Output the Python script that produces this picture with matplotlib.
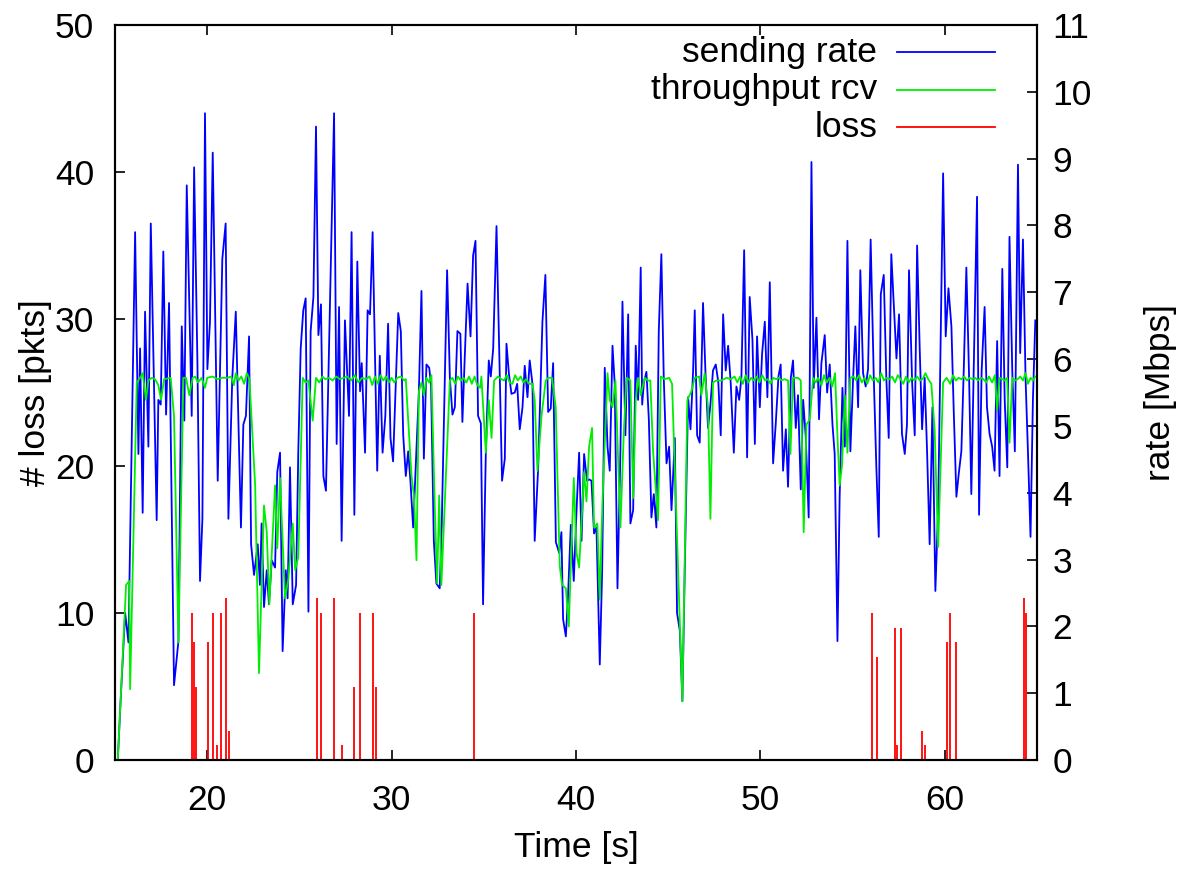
import matplotlib
matplotlib.use("Agg")
from matplotlib import pyplot as plt

# sending rate [Mbps]
send_t = [15.15, 15.31, 15.55, 15.73, 16.09, 16.27, 16.36, 16.50, 16.63, 16.81, 16.94, 17.26, 17.35, 17.48,
          17.62, 17.77, 17.93, 18.20, 18.44, 18.62, 18.76, 18.89, 19.16, 19.29, 19.47, 19.61, 19.74, 19.88,
          20.01, 20.15, 20.30, 20.57, 20.82, 21.00, 21.15, 21.36, 21.55, 21.83, 21.96, 22.10, 22.27, 22.38,
          22.54, 22.74, 22.86, 22.95, 23.08, 23.23, 23.35, 23.50, 23.68, 23.80, 23.95, 24.09, 24.26, 24.36,
          24.49, 24.64, 24.82, 24.94, 25.07, 25.21, 25.34, 25.49, 25.61, 25.76, 25.90, 26.03, 26.17, 26.30,
          26.44, 26.88, 27.02, 27.15, 27.29, 27.47, 27.69, 27.83, 27.98, 28.14, 28.29, 28.38, 28.56, 28.70,
          28.83, 28.97, 29.22, 29.36, 29.51, 29.66, 29.81, 29.94, 30.08, 30.36, 30.50, 30.63, 30.77, 30.90,
          31.02, 31.17, 31.48, 31.62, 31.75, 31.89, 32.04, 32.14, 32.29, 32.43, 32.61, 32.72, 33.01, 33.16,
          33.30, 33.43, 33.57, 33.73, 33.84, 33.97, 34.12, 34.28, 34.42, 34.55, 34.69, 34.84, 34.96, 35.11,
          35.27, 35.38, 35.51, 35.69, 35.99, 36.14, 36.23, 36.36, 36.50, 36.68, 36.81, 36.95, 37.10, 37.22,
          37.37, 37.49, 37.64, 37.76, 37.95, 38.18, 38.34, 38.49, 38.63, 38.76, 38.91, 39.09, 39.21, 39.30,
          39.45, 39.57, 39.72, 39.88, 40.03, 40.17, 40.30, 40.44, 40.60, 40.71, 40.84, 40.98, 41.11, 41.29,
          41.42, 41.56, 41.71, 41.83, 41.98, 42.10, 42.25, 42.41, 42.52, 42.68, 42.83, 42.95, 43.10, 43.24,
          43.37, 43.51, 43.59, 43.68, 43.82, 43.95, 44.09, 44.22, 44.36, 44.49, 44.63, 44.76, 44.91, 45.05,
          45.18, 45.36, 45.48, 45.63, 45.77, 45.90, 46.08, 46.21, 46.35, 46.44, 46.57, 46.71, 46.89, 47.02,
          47.16, 47.29, 47.43, 47.58, 47.72, 47.85, 47.98, 48.12, 48.25, 48.39, 48.56, 48.70, 48.85, 48.97,
          49.12, 49.28, 49.42, 49.57, 49.70, 49.82, 49.97, 50.09, 50.24, 50.38, 50.51, 50.69, 50.83, 50.98,
          51.10, 51.23, 51.38, 51.50, 51.65, 51.77, 51.92, 52.04, 52.19, 52.32, 52.46, 52.62, 52.77, 52.89,
          53.04, 53.18, 53.31, 53.49, 53.62, 53.76, 53.91, 54.03, 54.18, 54.30, 54.45, 54.58, 54.72, 54.88,
          55.03, 55.15, 55.30, 55.42, 55.57, 55.71, 55.84, 55.98, 56.15, 56.29, 56.42, 56.53, 56.69, 56.83,
          56.96, 57.10, 57.23, 57.38, 57.52, 57.68, 57.83, 57.95, 58.06, 58.23, 58.37, 58.50, 58.64, 58.77,
          58.91, 59.04, 59.18, 59.33, 59.49, 59.64, 59.76, 59.91, 60.05, 60.20, 60.36, 60.48, 60.63, 60.76,
          60.90, 61.04, 61.17, 61.32, 61.44, 61.59, 61.75, 61.86, 62.00, 62.16, 62.29, 62.43, 62.57, 62.70,
          62.84, 62.97, 63.12, 63.25, 63.39, 63.51, 63.66, 63.80, 63.97, 64.09, 64.24, 64.38, 64.51, 64.65,
          64.78, 64.91]
send_mbps = [0.00, 0.92, 2.20, 1.76, 7.90, 4.58, 6.16, 3.70, 6.71, 4.69, 8.03, 3.59, 5.39, 5.32,
             7.61, 5.17, 6.84, 1.12, 1.78, 6.49, 5.08, 8.60, 5.15, 8.87, 5.94, 2.68, 3.61, 9.68,
             5.85, 6.56, 9.09, 4.18, 7.50, 8.03, 3.61, 5.72, 6.71, 3.48, 5.02, 5.15, 6.34, 3.23,
             2.77, 3.23, 2.62, 3.54, 2.29, 2.84, 2.33, 2.99, 2.88, 4.31, 4.60, 1.63, 2.84, 2.42,
             4.38, 2.33, 2.62, 4.62, 6.16, 6.73, 6.91, 2.22, 6.42, 6.93, 9.48, 6.36, 6.82, 4.25,
             4.03, 9.68, 4.73, 6.78, 3.28, 6.58, 5.15, 7.90, 3.67, 7.46, 5.52, 5.94, 4.60, 6.73,
             6.67, 7.90, 4.33, 6.05, 4.60, 5.15, 6.53, 4.82, 4.47, 6.69, 6.42, 4.86, 4.25, 4.62,
             4.18, 3.48, 5.52, 7.02, 4.51, 5.92, 5.87, 5.61, 3.28, 2.64, 2.57, 3.52, 7.33, 5.72,
             5.17, 5.28, 6.42, 6.38, 5.06, 6.05, 7.13, 6.34, 7.55, 7.77, 5.15, 5.04, 2.33, 4.60,
             5.98, 5.74, 6.16, 7.99, 4.18, 4.51, 6.23, 5.79, 5.48, 5.50, 5.63, 4.95, 5.28, 5.90,
             5.43, 5.98, 5.63, 3.28, 4.38, 6.56, 7.26, 5.21, 5.26, 5.94, 3.26, 3.10, 3.41, 2.11,
             1.85, 2.46, 3.52, 2.68, 3.74, 4.60, 3.28, 4.58, 4.18, 4.20, 4.18, 3.39, 3.48, 1.43,
             2.84, 5.87, 4.69, 4.33, 6.20, 5.63, 2.57, 4.62, 6.86, 4.86, 6.67, 3.54, 3.74, 6.20,
             5.39, 7.37, 5.32, 5.65, 5.81, 5.10, 3.63, 3.98, 3.48, 6.42, 7.57, 5.72, 4.44, 4.69,
             3.74, 4.82, 2.20, 1.94, 0.88, 2.86, 5.43, 4.95, 5.81, 6.73, 4.86, 4.75, 6.84, 5.81,
             4.97, 5.32, 5.83, 5.92, 5.65, 4.86, 6.67, 5.83, 6.20, 5.65, 4.60, 5.59, 5.39, 5.72,
             7.63, 4.53, 6.93, 6.29, 4.73, 6.34, 5.28, 6.07, 6.56, 5.43, 7.15, 4.44, 5.02, 5.74,
             5.92, 4.33, 4.95, 4.09, 5.72, 5.98, 4.97, 5.46, 4.05, 5.39, 4.84, 3.63, 8.95, 5.57,
             6.62, 5.10, 5.94, 6.36, 5.50, 5.92, 5.02, 4.58, 1.78, 3.96, 5.57, 4.69, 7.77, 4.62,
             5.72, 6.49, 5.28, 7.33, 5.79, 5.59, 5.85, 7.79, 5.72, 4.38, 3.34, 6.97, 7.26, 5.72,
             4.82, 7.57, 6.86, 6.01, 6.67, 4.88, 4.58, 5.02, 7.33, 5.65, 4.86, 7.70, 6.16, 4.95,
             5.72, 4.62, 3.23, 5.28, 2.53, 3.74, 5.94, 8.78, 6.34, 7.06, 6.49, 5.28, 3.94, 4.29,
             4.62, 5.94, 7.37, 5.72, 3.98, 6.16, 8.43, 3.67, 5.83, 6.78, 5.28, 4.88, 4.69, 4.33,
             6.27, 4.25, 7.35, 5.39, 4.38, 7.83, 5.83, 4.62, 8.91, 6.09, 7.79, 5.72, 4.62, 3.34,
             5.39, 6.58]

# throughput at the receiver [Mbps]
thr_t = [15.15, 15.60, 15.77, 15.82, 16.18, 16.36, 16.50, 16.68, 16.81, 16.99, 17.17, 17.35, 17.50, 17.66,
         18.02, 18.20, 18.44, 18.71, 18.85, 19.03, 19.21, 19.35, 19.50, 19.70, 19.88, 20.00, 20.30, 20.55,
         20.80, 21.10, 21.30, 21.45, 21.55, 21.70, 21.85, 22.00, 22.15, 22.29, 22.60, 22.81, 23.08, 23.23,
         23.37, 23.68, 23.80, 23.95, 24.22, 24.40, 24.64, 24.77, 24.94, 25.18, 25.33, 25.49, 25.72, 25.90,
         26.08, 26.25, 26.40, 26.60, 26.80, 27.00, 27.20, 27.40, 27.60, 27.80, 28.00, 28.20, 28.40, 28.60,
         28.80, 28.95, 29.10, 29.25, 29.40, 29.55, 29.70, 29.85, 30.00, 30.15, 30.30, 30.50, 30.69, 30.77,
         31.08, 31.21, 31.35, 31.48, 31.62, 31.75, 31.89, 32.04, 32.16, 32.34, 32.47, 32.58, 32.70, 33.16,
         33.30, 33.45, 33.60, 33.75, 33.90, 34.05, 34.20, 34.35, 34.50, 34.65, 34.80, 34.87, 35.11, 35.27,
         35.42, 35.56, 35.78, 35.95, 36.10, 36.25, 36.40, 36.55, 36.70, 36.85, 37.00, 37.15, 37.30, 37.45,
         37.64, 37.76, 37.91, 38.13, 38.36, 38.50, 38.70, 38.90, 39.12, 39.25, 39.45, 39.61, 39.88, 40.03,
         40.17, 40.44, 40.57, 40.71, 40.87, 40.98, 41.16, 41.29, 41.43, 41.71, 41.83, 41.98, 42.14, 42.41,
         42.59, 42.74, 42.95, 43.10, 43.24, 43.37, 43.51, 43.73, 43.90, 44.03, 44.18, 44.45, 44.60, 44.81,
         45.05, 45.21, 45.77, 46.04, 46.26, 46.44, 46.68, 46.80, 46.98, 47.16, 47.29, 47.43, 47.61, 47.88,
         48.16, 48.40, 48.60, 48.75, 48.90, 49.05, 49.20, 49.35, 49.50, 49.65, 49.80, 49.95, 50.10, 50.25,
         50.40, 50.55, 50.70, 50.85, 51.00, 51.15, 51.30, 51.50, 51.63, 51.77, 52.04, 52.19, 52.35, 52.50,
         52.68, 52.86, 53.00, 53.13, 53.31, 53.45, 53.60, 53.75, 53.90, 54.05, 54.18, 54.30, 54.43, 54.58,
         54.72, 54.88, 55.05, 55.20, 55.35, 55.50, 55.65, 55.80, 55.95, 56.10, 56.25, 56.40, 56.55, 56.70,
         56.85, 57.00, 57.15, 57.30, 57.45, 57.60, 57.75, 57.90, 58.05, 58.20, 58.35, 58.50, 58.65, 58.80,
         58.95, 59.10, 59.27, 59.45, 59.64, 59.91, 60.10, 60.30, 60.45, 60.60, 60.75, 60.90, 61.05, 61.20,
         61.35, 61.50, 61.65, 61.80, 61.95, 62.10, 62.25, 62.40, 62.57, 62.72, 62.84, 62.97, 63.12, 63.25,
         63.38, 63.51, 63.66, 63.80, 63.95, 64.10, 64.24, 64.38, 64.51, 64.65, 64.78, 64.91]
thr_mbps = [0.00, 2.62, 2.68, 1.06, 5.65, 5.72, 5.79, 5.39, 5.68, 5.72, 5.70, 5.61, 5.39, 5.70,
            5.72, 5.15, 1.76, 5.72, 5.72, 5.46, 5.72, 5.74, 5.65, 5.72, 5.57, 5.72, 5.74, 5.70,
            5.72, 5.72, 5.74, 5.61, 5.79, 5.68, 5.74, 5.63, 5.79, 5.70, 4.11, 1.30, 3.81, 3.41,
            2.33, 4.11, 3.17, 4.22, 2.42, 2.71, 3.54, 2.84, 3.04, 5.72, 5.65, 5.68, 5.08, 5.72,
            5.65, 5.74, 5.70, 5.72, 5.68, 5.74, 5.70, 5.72, 5.74, 5.68, 5.76, 5.65, 5.72, 5.70,
            5.74, 5.61, 5.74, 5.63, 5.76, 5.68, 5.74, 5.65, 5.72, 5.65, 5.72, 5.74, 5.68, 5.70,
            4.25, 3.96, 2.99, 5.52, 5.65, 5.46, 5.72, 5.65, 5.76, 3.81, 2.64, 3.96, 2.62, 5.68,
            5.72, 5.63, 5.74, 5.68, 5.72, 5.65, 5.74, 5.63, 5.74, 5.61, 5.57, 5.74, 4.60, 5.39,
            4.82, 5.68, 5.74, 5.70, 5.68, 5.76, 5.65, 5.63, 5.76, 5.68, 5.74, 5.65, 5.70, 5.63,
            5.63, 5.39, 4.33, 5.15, 5.68, 5.72, 5.72, 5.28, 2.90, 2.62, 2.57, 2.00, 4.22, 3.10,
            2.88, 4.31, 3.87, 4.69, 4.97, 3.48, 3.54, 2.40, 3.81, 5.79, 5.39, 5.28, 5.68, 3.48,
            4.88, 5.72, 5.68, 3.92, 5.39, 5.72, 5.46, 5.72, 5.68, 5.68, 4.62, 3.59, 5.74, 5.70,
            5.72, 5.63, 0.88, 5.39, 5.52, 5.72, 5.74, 5.46, 5.79, 5.28, 3.61, 5.65, 5.68, 5.68,
            5.72, 5.70, 5.74, 5.65, 5.74, 5.63, 5.76, 5.65, 5.72, 5.68, 5.74, 5.65, 5.76, 5.68,
            5.70, 5.63, 5.72, 5.70, 5.72, 5.68, 5.70, 5.68, 4.58, 5.72, 5.72, 5.68, 3.41, 5.02,
            5.10, 5.72, 5.65, 5.72, 5.61, 5.76, 5.65, 5.72, 5.59, 5.79, 4.84, 4.11, 4.42, 5.46,
            4.60, 5.72, 5.74, 5.68, 5.76, 5.65, 5.72, 5.63, 5.76, 5.68, 5.72, 5.65, 5.79, 5.68,
            5.72, 5.70, 5.74, 5.65, 5.76, 5.70, 5.63, 5.74, 5.65, 5.72, 5.68, 5.74, 5.68, 5.70,
            5.79, 5.70, 5.63, 4.95, 3.19, 5.65, 5.72, 5.63, 5.76, 5.68, 5.72, 5.70, 5.74, 5.68,
            5.72, 5.70, 5.72, 5.68, 5.72, 5.70, 5.65, 5.74, 5.65, 5.76, 5.24, 5.72, 5.70, 5.68,
            5.72, 4.75, 5.72, 5.68, 5.70, 5.74, 5.68, 5.79, 5.63, 5.72, 5.68, 5.74]

# lost packets per interval (zero elsewhere)
loss_t = [19.17, 19.27, 19.37, 20.02, 20.30, 20.55, 20.73, 21.02, 21.17, 25.95, 26.15, 26.87, 27.29,
          27.96, 28.29, 28.98, 29.13, 34.48, 56.06, 56.33, 57.29, 57.43, 57.61, 58.77, 58.91, 60.12,
          60.30, 60.63, 64.27, 64.42]
loss_pkts = [10, 8, 5, 8, 10, 1, 10, 11, 2, 11, 10, 11, 1,
             5, 10, 10, 5, 10, 10, 7, 9, 1, 9, 2, 1, 8,
             10, 8, 11, 10]

x_ticks = [20, 30, 40, 50, 60]
loss_ticks = [0, 10, 20, 30, 40, 50]
rate_ticks = list(range(0, 12))

plt.rcParams['font.family'] = ['Liberation Sans', 'DejaVu Sans']
plt.rcParams['font.size'] = 25.5

blue = '#0000ff'
green = '#00ee00'
red = '#ff0000'

fig = plt.figure(figsize=(11.82, 8.69), dpi=100)
ax = fig.add_axes([0.0973, 0.1254, 0.78, 0.8458])
ax.vlines(loss_t, 0, loss_pkts, colors=red, lw=1.3)

ax2 = ax.twinx()
ax2.plot(send_t, send_mbps, color=blue, lw=1.3)
ax2.plot(thr_t, thr_mbps, color=green, lw=1.3)

ax.set_xlim(15, 65)
ax.set_ylim(0, 50)
ax2.set_ylim(0, 11)
ax.set_xticks(x_ticks)
ax.set_yticks(loss_ticks)
ax2.set_yticks(rate_ticks)

ax.tick_params(axis='x', direction='in', length=7, width=1.2, top=True, pad=17)
ax.tick_params(axis='y', direction='in', length=7, width=1.2, pad=15)
ax2.tick_params(axis='y', direction='in', length=7, width=1.2, pad=11)
for a in (ax, ax2):
    for s in a.spines.values():
        s.set_linewidth(1.5)

ax.set_xlabel('Time [s]', labelpad=10)
ax.set_ylabel('# loss [pkts]', labelpad=2)
ax2.set_ylabel('rate [Mbps]', labelpad=38)

# key, gnuplot style: text on the left, sample on the right
entries = [('sending rate', blue), ('throughput rcv', green), ('loss', red)]
for i, (name, col) in enumerate(entries):
    y = 0.963 - i * 0.051
    ax2.text(0.8265, y, name, transform=ax2.transAxes, ha='right', va='center')
    ax2.plot([0.848, 0.9544], [y, y], color=col, lw=1.3, transform=ax2.transAxes)

fig.savefig('out.png', dpi=100)
